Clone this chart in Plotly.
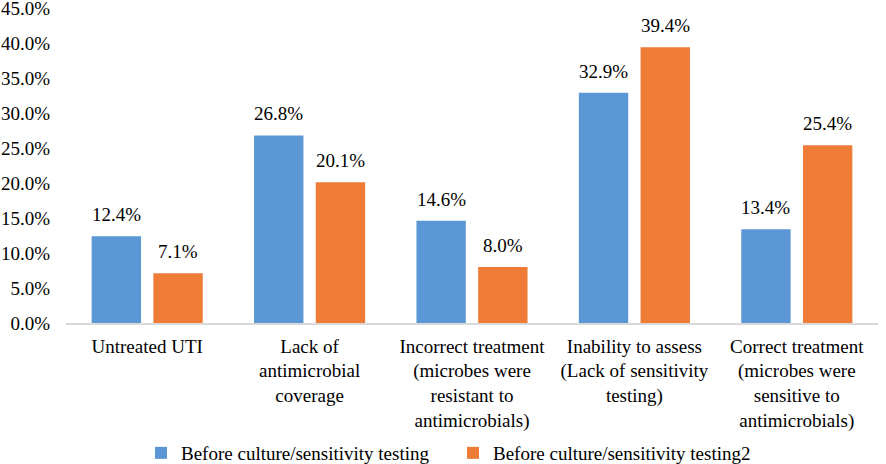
import plotly.graph_objects as go

categories = [
    "Untreated UTI",
    "Lack of<br>antimicrobial<br>coverage",
    "Incorrect treatment<br>(microbes were<br>resistant to<br>antimicrobials)",
    "Inability to assess<br>(Lack of sensitivity<br>testing)",
    "Correct treatment<br>(microbes were<br>sensitive to<br>antimicrobials)",
]
series1_name = "Before culture/sensitivity testing"
series2_name = "Before culture/sensitivity testing2"
series1 = [12.4, 26.8, 14.6, 32.9, 13.4]
series2 = [7.1, 20.1, 8.0, 39.4, 25.4]

FONT = "Liberation Serif"
BLUE = "#5a97d4"
ORANGE = "#ee7b36"

W, H = 886, 464

fig = go.Figure()
fig.add_trace(go.Bar(name=series1_name, x=categories, y=series1,
                     marker=dict(color=BLUE, line=dict(width=0))))
fig.add_trace(go.Bar(name=series2_name, x=categories, y=series2,
                     marker=dict(color=ORANGE, line=dict(width=0))))

annotations = []
for vals, shift in ((series1, -31), (series2, 31)):
    for c, v in zip(categories, vals):
        annotations.append(dict(x=c, y=v, xref="x", yref="y", text=f"{v:.1f}%",
                                showarrow=False, xshift=shift, yshift=9,
                                yanchor="bottom", font=dict(family=FONT, size=19, color="black")))

fig.update_layout(
    width=W, height=H,
    margin=dict(l=66, r=8, t=8, b=141, autoexpand=False),
    paper_bgcolor="white", plot_bgcolor="white",
    barmode="group", bargap=0.24, bargroupgap=0.2,
    font=dict(family=FONT, size=19, color="black"),
    showlegend=True,
    legend=dict(orientation="h", xref="container", x=141 / W, xanchor="left",
                yref="container", y=1 - 453 / H, yanchor="middle",
                font=dict(family=FONT, size=19, color="black"),
                entrywidth=267, entrywidthmode="pixels",
                itemwidth=30, tracegroupgap=0),
    annotations=annotations,
)
fig.update_yaxes(range=[0, 45], dtick=5, tickformat=".1f", ticksuffix="%",
                 showgrid=False, zeroline=False, showline=False, automargin=False,
                 ticklabeloverflow="allow",
                 ticklabelstandoff=15, tickfont=dict(family=FONT, size=19, color="black"))
fig.update_xaxes(showline=True, linecolor="#d9d9d9", linewidth=1.5, ticks="", automargin=False,
                 ticklabelstandoff=5, tickfont=dict(family=FONT, size=19, color="black"),
                 tickangle=0)

fig.write_html("out.html", config={"displayModeBar": False},
               post_script="document.body.style.margin='0';")
